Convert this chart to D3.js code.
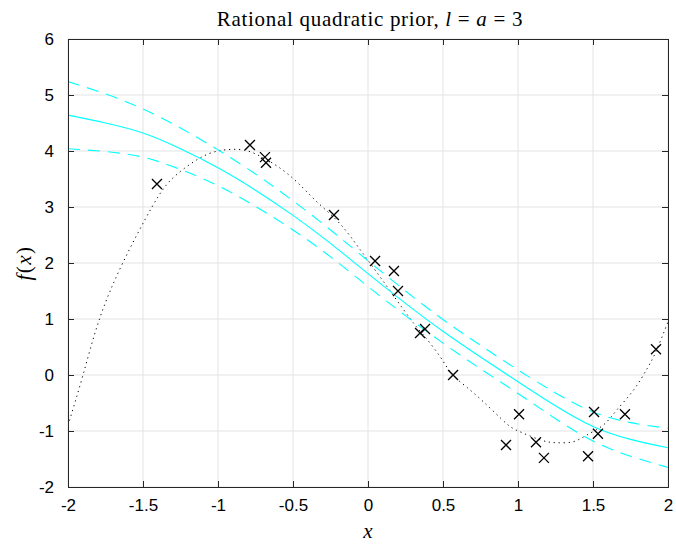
<!DOCTYPE html>
<html><head><meta charset="utf-8">
<script src="https://cdn.jsdelivr.net/npm/d3@7"></script>
<style>body{margin:0;background:#fff}</style>
</head><body>
<script>
// ---- data ----
const xTicks = [-2, -1.5, -1, -0.5, 0, 0.5, 1, 1.5, 2];
const xTickLabels = ["-2", "-1.5", "-1", "-0.5", "0", "0.5", "1", "1.5", "2"];
const yTicks = [-2, -1, 0, 1, 2, 3, 4, 5, 6];
const yTickLabels = ["-2", "-1", "0", "1", "2", "3", "4", "5", "6"];

// observed samples (x markers)
const obsX = [-1.407, -0.787, -0.687, -0.68, -0.227, 0.047, 0.173, 0.2, 0.347, 0.38, 0.567, 0.92, 1.007, 1.12, 1.173, 1.467, 1.507, 1.533, 1.713, 1.92];
const obsY = [3.41, 4.107, 3.89, 3.79, 2.857, 2.036, 1.857, 1.5, 0.75, 0.82, 0.0, -1.25, -0.70, -1.2, -1.48, -1.45, -0.66, -1.05, -0.70, 0.46];

// true function (dotted)
const trueX = [-2.0, -1.9, -1.79, -1.635, -1.44, -1.3, -1.124, -1.0, -0.9, -0.8, -0.7, -0.6, -0.475, -0.34, -0.19, -0.05, 0.1, 0.28, 0.38, 0.48, 0.556, 0.65, 0.77, 0.92, 1.01, 1.15, 1.26, 1.37, 1.46, 1.57, 1.66, 1.77, 1.86, 1.92, 2.0];
const trueY = [-0.90, 0.0, 1.0, 2.0, 3.0, 3.52, 3.87, 4.0, 4.03, 4.0, 3.88, 3.72, 3.45, 3.09, 2.71, 2.23, 1.68, 1.01, 0.68, 0.33, 0.03, -0.20, -0.48, -0.86, -1.01, -1.16, -1.21, -1.19, -1.07, -0.89, -0.62, -0.27, 0.11, 0.42, 0.95];

// posterior mean and band
const gridX = [-2, -1.75, -1.5, -1.25, -1, -0.75, -0.5, -0.25, 0, 0.25, 0.5, 0.75, 1, 1.25, 1.5, 1.75, 2];
const meanY = [4.64, 4.50, 4.32, 4.04, 3.70, 3.30, 2.85, 2.35, 1.81, 1.28, 0.78, 0.32, -0.12, -0.55, -0.92, -1.15, -1.30];
const upperY = [5.24, 5.02, 4.75, 4.41, 4.02, 3.59, 3.11, 2.59, 2.04, 1.50, 0.99, 0.53, 0.09, -0.32, -0.66, -0.85, -0.95];
const lowerY = [4.04, 3.99, 3.89, 3.67, 3.38, 3.01, 2.59, 2.11, 1.58, 1.06, 0.57, 0.11, -0.33, -0.78, -1.18, -1.45, -1.65];

// ---- layout ----
const W = 676, H = 544;
const L = 68, T = 39, R = 668, B = 487;
const svg = d3.select("body").append("svg").attr("width", W).attr("height", H);
const x = d3.scaleLinear().domain([-2, 2]).range([L, R]);
const y = d3.scaleLinear().domain([-2, 6]).range([B, T]);

const axisCol = "#262626", gridCol = "#e3e3e3";
const sans = "'Liberation Sans', Arial, Helvetica, sans-serif";
const serif = "'Liberation Serif', 'Times New Roman', serif";

// grid
svg.append("g").selectAll("line").data(xTicks).join("line")
  .attr("x1", d => x(d)).attr("x2", d => x(d)).attr("y1", T).attr("y2", B)
  .attr("stroke", gridCol).attr("stroke-width", 1);
svg.append("g").selectAll("line").data(yTicks).join("line")
  .attr("y1", d => y(d)).attr("y2", d => y(d)).attr("x1", L).attr("x2", R)
  .attr("stroke", gridCol).attr("stroke-width", 1);

svg.append("clipPath").attr("id", "c").append("rect")
  .attr("x", L).attr("y", T).attr("width", R - L).attr("height", B - T);
const plot = svg.append("g").attr("clip-path", "url(#c)");

const line = d3.line().x(d => x(d[0])).y(d => y(d[1])).curve(d3.curveNatural);

// dotted true function
plot.append("path").datum(d3.zip(trueX, trueY)).attr("d", line)
  .attr("fill", "none").attr("stroke", "#000").attr("stroke-width", 1)
  .attr("stroke-dasharray", "1.2,3.8");

// band & mean
plot.append("path").datum(d3.zip(gridX, upperY)).attr("d", line)
  .attr("fill", "none").attr("stroke", "#00ffff").attr("stroke-width", 1.1)
  .attr("stroke-dasharray", "12,8");
plot.append("path").datum(d3.zip(gridX, lowerY)).attr("d", line)
  .attr("fill", "none").attr("stroke", "#00ffff").attr("stroke-width", 1.1)
  .attr("stroke-dasharray", "12,8");
plot.append("path").datum(d3.zip(gridX, meanY)).attr("d", line)
  .attr("fill", "none").attr("stroke", "#00ffff").attr("stroke-width", 1.1);

// markers
const s = 5;
plot.append("g").selectAll("path").data(d3.zip(obsX, obsY)).join("path")
  .attr("d", d => {
    const cx = x(d[0]), cy = y(d[1]);
    return `M${cx - s},${cy - s}L${cx + s},${cy + s}M${cx - s},${cy + s}L${cx + s},${cy - s}`;
  })
  .attr("stroke", "#000").attr("stroke-width", 1.3).attr("fill", "none");

// axes box with inward ticks (box on)
const tl = 6;
const ax = svg.append("g");
ax.append("g").attr("transform", `translate(0,${B})`)
  .call(d3.axisBottom(x).tickValues(xTicks).tickSize(-tl).tickFormat((d, i) => xTickLabels[i]).tickPadding(12));
ax.append("g").attr("transform", `translate(0,${T})`)
  .call(d3.axisTop(x).tickValues(xTicks).tickSize(-tl).tickFormat(""));
ax.append("g").attr("transform", `translate(${L},0)`)
  .call(d3.axisLeft(y).tickValues(yTicks).tickSize(-tl).tickFormat((d, i) => yTickLabels[i]).tickPadding(14));
ax.append("g").attr("transform", `translate(${R},0)`)
  .call(d3.axisRight(y).tickValues(yTicks).tickSize(-tl).tickFormat(""));
ax.selectAll(".domain").attr("stroke", axisCol).attr("stroke-width", 1);
ax.selectAll(".tick line").attr("stroke", axisCol).attr("stroke-width", 1);
ax.selectAll(".tick text").attr("fill", "#000").style("font-family", sans).style("font-size", "17px");

// title
const title = svg.append("text").attr("x", (L + R) / 2 + 2).attr("y", 26)
  .attr("text-anchor", "middle").style("font-family", serif).style("font-size", "21px")
  .style("letter-spacing", "0.7px").attr("fill", "#000");
title.append("tspan").text("Rational quadratic prior, ");
title.append("tspan").style("font-style", "italic").text("l");
title.append("tspan").text(" = ");
title.append("tspan").style("font-style", "italic").text("a");
title.append("tspan").text(" = 3");

// x label
svg.append("text").attr("x", (L + R) / 2).attr("y", 538).attr("text-anchor", "middle")
  .style("font-family", serif).style("font-style", "italic").style("font-size", "21px").text("x");

// y label
const yl = svg.append("text").attr("transform", `translate(31,${(T + B) / 2}) rotate(-90)`)
  .attr("text-anchor", "middle").style("font-family", serif).style("font-size", "21px")
  .style("letter-spacing", "1.5px");
yl.append("tspan").style("font-style", "italic").text("f");
yl.append("tspan").text("(");
yl.append("tspan").style("font-style", "italic").text("x");
yl.append("tspan").text(")");
</script>
</body></html>
